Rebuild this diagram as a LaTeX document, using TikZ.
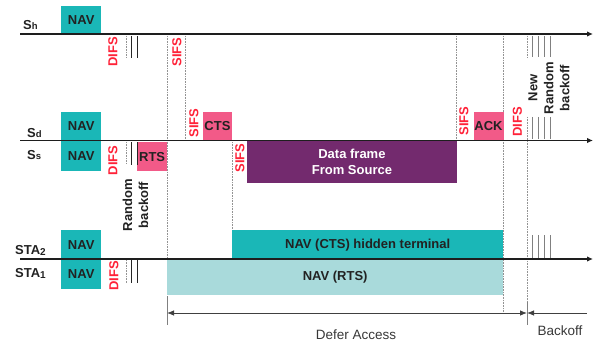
\documentclass[tikz,border=0pt]{standalone}
\usepackage{fontspec}
\setmainfont{Liberation Sans}
\usetikzlibrary{arrows.meta}
\definecolor{navc}{HTML}{1AB7B7}
\definecolor{navl}{HTML}{A9DADB}
\definecolor{pinkc}{HTML}{F25A88}
\definecolor{purc}{HTML}{732A6E}
\definecolor{redc}{HTML}{FF2238}
\definecolor{txtc}{HTML}{222222}
\definecolor{linec}{HTML}{1E1E1E}
\newcommand{\bfont}{\fontsize{13}{16}\selectfont\bfseries}
\newcommand{\rfont}{\fontsize{13.5}{16}\selectfont}
\newcommand{\subsm}[1]{{\fontsize{9.5}{9.5}\selectfont #1}}
\newcommand{\subst}[1]{\raisebox{-1.5pt}{\fontsize{10}{10}\selectfont #1}}
\begin{document}
\begin{tikzpicture}[x=1pt,y=-1pt,
  boxst/.style={inner sep=0pt, anchor=north west, font=\bfont, text=txtc, align=center},
  redl/.style={inner sep=0pt, rotate=90, font=\bfont, text=redc},
  blkl/.style={inner sep=0pt, rotate=90, font=\bfont, text=txtc, align=center},
  stalbl/.style={inner sep=0pt, anchor=base west, font=\bfont, text=txtc},
  timeline/.style={line width=1.8pt, draw=linec, -{Latex[length=6pt,width=5.5pt]}},
  guide/.style={draw=gray!85, line width=0.6pt, dash pattern=on 0.8pt off 0.8pt},
  tickk/.style={draw=black!85, line width=0.8pt},
  tickg/.style={draw=gray, line width=0.8pt},
  dimline/.style={draw=black!75, line width=0.8pt},
  barst/.style={draw=gray, line width=1pt},
  plain/.style={inner sep=0pt, font=\rfont, text=txtc!90}
]
\useasboundingbox (0,0) rectangle (594,342);

% ---- dotted guide lines
\coordinate (g1a) at (167,36);   \coordinate (g1b) at (167,259);
\coordinate (g2a) at (185,36);   \coordinate (g2b) at (185,139);
\coordinate (g3a) at (232,142);  \coordinate (g3b) at (232,230);
\coordinate (g4a) at (456.5,36); \coordinate (g4b) at (456.5,139);
\coordinate (g5a) at (503,36);   \coordinate (g5b) at (503,312);
\coordinate (g6a) at (527,117);  \coordinate (g6b) at (527,302);
\coordinate (g7a) at (527,36);   \coordinate (g7b) at (527,58);
\coordinate (d1a) at (126,36);   \coordinate (d1b) at (126,58);
\coordinate (d2a) at (126,142);  \coordinate (d2b) at (126,163);
\coordinate (d3a) at (126,260);  \coordinate (d3b) at (126,283);
\foreach \p in {g1,g2,g3,g4,g5,g6,g7,d1,d2,d3} {\draw[guide] (\p a) -- (\p b);}

% ---- boxes
\node[boxst, fill=navc, minimum width=40pt, minimum height=28pt] (navh) at (61,6) {NAV};
\node[boxst, fill=navc, minimum width=40pt, minimum height=28pt] (navd) at (61,112) {NAV};
\node[boxst, fill=navc, minimum width=40pt, minimum height=30pt] (navs) at (61,141) {NAV};
\node[boxst, fill=navc, minimum width=40pt, minimum height=29pt] (nav2) at (61,230) {NAV};
\node[boxst, fill=navc, minimum width=40pt, minimum height=30pt] (nav1) at (61,259) {NAV};
\node[boxst, fill=pinkc, minimum width=29.5pt, minimum height=29pt] (rts) at (137.2,142) {RTS};
\node[boxst, fill=pinkc, minimum width=29.5pt, minimum height=28pt] (cts) at (202.5,112) {CTS};
\node[boxst, fill=pinkc, minimum width=30pt, minimum height=28pt] (ack) at (473.3,112) {ACK};
\node[boxst, fill=purc, text=white, minimum width=209.5pt, minimum height=42pt] (data) at (247,141) {Data frame\\From Source};
\node[boxst, fill=navc, minimum width=271pt, minimum height=29pt] (navcts) at (232,230) {NAV (CTS) hidden terminal};
\node[boxst, fill=navl, minimum width=336pt, minimum height=36pt] (navrts) at (167,259) {NAV (RTS)};

% ---- solid backoff ticks
\foreach \x [count=\i] in {131.5,137} {
  \coordinate (kha\i) at (\x,36);  \coordinate (khb\i) at (\x,58);
  \coordinate (ksa\i) at (\x,142); \coordinate (ksb\i) at (\x,165);
  \coordinate (k1a\i) at (\x,260); \coordinate (k1b\i) at (\x,283);
  \draw[tickk] (kha\i) -- (khb\i);
  \draw[tickk] (ksa\i) -- (ksb\i);
  \draw[tickk] (k1a\i) -- (k1b\i);
}
\foreach \x [count=\i] in {532,538,544,550} {
  \coordinate (rha\i) at (\x,36);  \coordinate (rhb\i) at (\x,57);
  \coordinate (rda\i) at (\x,117); \coordinate (rdb\i) at (\x,139);
  \coordinate (r2a\i) at (\x+0.7,235); \coordinate (r2b\i) at (\x+0.7,258);
  \draw[tickg] (rha\i) -- (rhb\i);
  \draw[tickg] (rda\i) -- (rdb\i);
  \draw[tickg] (r2a\i) -- (r2b\i);
}

% ---- time lines
\coordinate (sh0) at (20,34);    \coordinate (sh1) at (593,34);
\coordinate (sd0) at (20,140.5); \coordinate (sd1) at (593,140.5);
\coordinate (st0) at (20,259);   \coordinate (st1) at (593,259);
\draw[timeline] (sh0) -- (sh1);
\draw[timeline] (sd0) -- (sd1);
\draw[timeline] (st0) -- (st1);

% ---- station labels
\node[stalbl] (lsh) at (23,30) {S\subsm{h}};
\node[stalbl] (lsd) at (27,138) {S\subsm{d}};
\node[stalbl] (lss) at (27,159) {S\subsm{s}};
\node[stalbl] (lst2) at (15,254) {STA\subst{2}};
\node[stalbl] (lst1) at (15,277) {STA\subst{1}};

% ---- interframe space labels
\node[redl] (difsh) at (113,52) {DIFS};
\node[redl] (sifsh) at (177,52) {SIFS};
\node[redl] (sifsd) at (194,123) {SIFS};
\node[redl] (sifss) at (240,158) {SIFS};
\node[redl] (difss) at (113,160.5) {DIFS};
\node[redl] (sifsa) at (464,121) {SIFS};
\node[redl] (difsa) at (517.5,122) {DIFS};
\node[redl] (difs1) at (114,276) {DIFS};

\node[blkl] (rb) at (135.5,205) {Random\\backoff};
\node[blkl] (nrb) at (549,88) {New\\Random\\backoff};

% ---- defer / backoff dimension
\coordinate (b1a) at (167,296); \coordinate (b1b) at (167,325);
\coordinate (b2a) at (527,302); \coordinate (b2b) at (527,325);
\draw[barst] (b1a) -- (b1b);
\draw[barst] (b2a) -- (b2b);
\coordinate (da0) at (167,313); \coordinate (da1) at (527,313);
\coordinate (bo1) at (587,313);
\draw[dimline, {Latex[length=7pt,width=5.5pt]}-{Latex[length=7pt,width=5.5pt]}] (da0) -- (da1);
\draw[dimline, {Latex[length=7pt,width=5.5pt]}-] (da1) -- (bo1);
\node[plain, anchor=base] (defer) at (356,339) {Defer Access};
\node[plain, anchor=base] (backoff) at (560,335) {Backoff};
\end{tikzpicture}
\end{document}
